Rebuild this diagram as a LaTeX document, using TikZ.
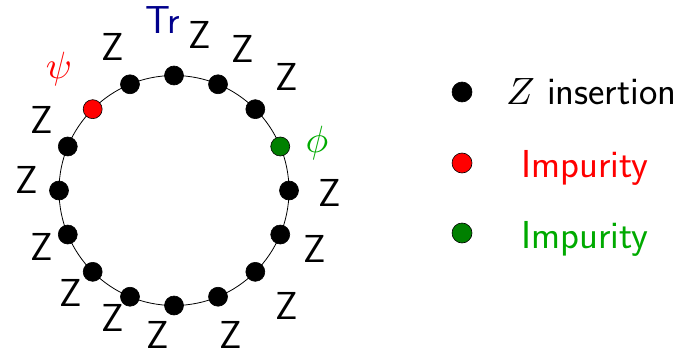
\documentclass[tikz,border=0pt]{standalone}
\usepackage{fontspec}
\usepackage{graphicx}
\usetikzlibrary{calc}
\definecolor{trblue}{RGB}{0,0,140}
\definecolor{dotgreen}{RGB}{0,128,0}
\definecolor{txtgreen}{RGB}{0,170,0}
\definecolor{pured}{RGB}{255,0,0}
\newcommand{\bigmath}[1]{\scalebox{3.8}{\fontsize{10}{12}\selectfont$#1$}}
\begin{document}
\begin{tikzpicture}[x=1pt,y=1pt,
  lab/.style={font=\fontsize{39}{44}\selectfont\sffamily, inner sep=0pt},
  dot/.style={circle, draw=black, line width=0.6pt, inner sep=0pt, minimum size=19pt, fill=black}]
\useasboundingbox (0,0) rectangle (692,354);
\coordinate (c) at (174,163.5);
\draw[line width=0.8pt] (c) circle (115);
\foreach \k in {0,...,15}{
  \pgfmathsetmacro{\ang}{90-22.5*\k}
  \ifnum\k=14
    \node[dot, fill=pured] (d\k) at ($(c)+(\ang:115)$) {};
  \else\ifnum\k=3
    \node[dot, fill=dotgreen] (d\k) at ($(c)+(\ang:115)$) {};
  \else
    \node[dot] (d\k) at ($(c)+(\ang:115)$) {};
  \fi\fi
}
\node[lab, text=trblue] (tr) at (163,334) {Tr};
\node[lab, text=pured] (psi) at (59,285) {\bigmath{\psi}};
\node[lab, text=txtgreen] (phi) at (317,211) {\bigmath{\phi}};
\node[lab] (z1) at (113,307) {Z};
\node[lab] (z2) at (200,319) {Z};
\node[lab] (z3) at (243,305) {Z};
\node[lab] (z4) at (287,277) {Z};
\node[lab] (z5) at (330,161) {Z};
\node[lab] (z6) at (315,105) {Z};
\node[lab] (z7) at (287,48) {Z};
\node[lab] (z8) at (231,19.5) {Z};
\node[lab] (z9) at (157.5,19.5) {Z};
\node[lab] (z10) at (113,36) {Z};
\node[lab] (z11) at (71,61) {Z};
\node[lab] (z12) at (42,107) {Z};
\node[lab] (z13) at (27,174) {Z};
\node[lab] (z14) at (42,234) {Z};
% legend
\node[dot, minimum size=20pt] (l1) at (462,262) {};
\node[dot, minimum size=20pt, fill=pured] (l2) at (462,191) {};
\node[dot, minimum size=20pt, fill=dotgreen] (l3) at (462,121) {};
\node[lab, anchor=base west] (t1) at (506,249) {\bigmath{Z} insertion};
\node[lab, anchor=base west, text=pured] (t2) at (521,177) {Impurity};
\node[lab, anchor=base west, text=txtgreen] (t3) at (521,106) {Impurity};
\end{tikzpicture}
\end{document}
